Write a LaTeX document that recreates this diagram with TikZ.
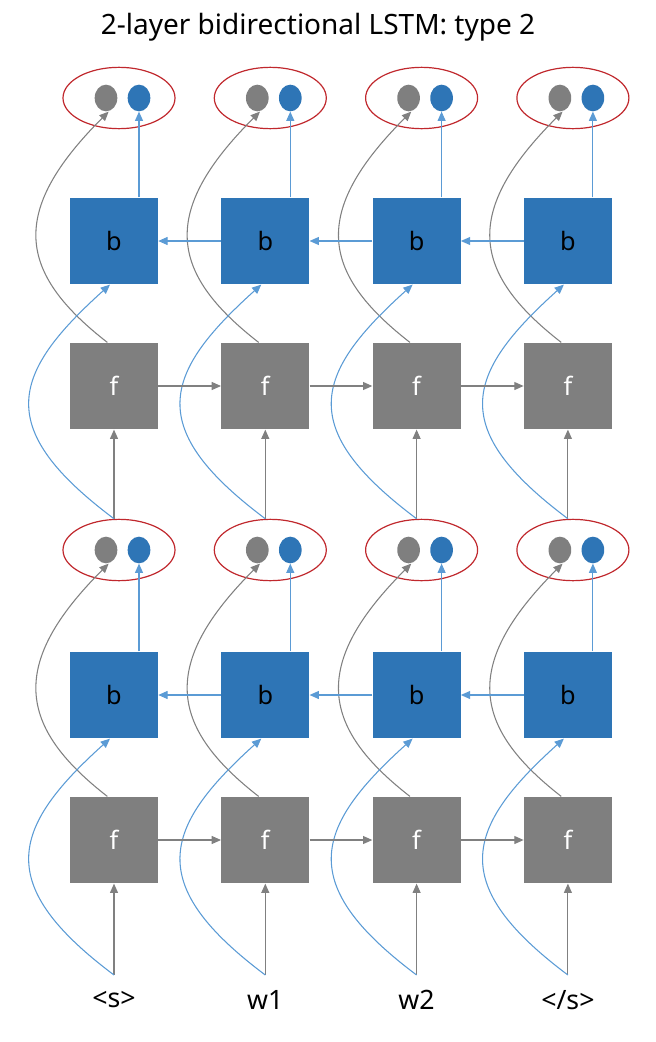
\documentclass[tikz,border=0pt]{standalone}
\usepackage{fontspec}
\setmainfont{Noto Sans}
\usetikzlibrary{arrows.meta,shapes.geometric}
\definecolor{bb}{HTML}{2E75B6}
\definecolor{gg}{HTML}{7F7F7F}
\definecolor{lb}{HTML}{5B9BD5}
\definecolor{lg}{HTML}{808080}
\definecolor{rr}{HTML}{C0282D}
\begin{document}
\begin{tikzpicture}[x=0.75pt,y=-0.75pt,
  boxb/.style={fill=bb,minimum width=66pt,minimum height=65pt,inner sep=0pt,font=\fontsize{19}{19}\selectfont,text=black},
  boxf/.style={fill=gg,minimum width=66pt,minimum height=65pt,inner sep=0pt,font=\fontsize{19}{19}\selectfont,text=white},
  ell/.style={draw=rr,line width=0.9pt,ellipse,minimum width=84pt,minimum height=46pt,inner sep=0pt},
  dotg/.style={fill=gg,ellipse,minimum width=17pt,minimum height=20pt,inner sep=0pt},
  dotb/.style={fill=bb,ellipse,minimum width=17pt,minimum height=20pt,inner sep=0pt},
  ag/.style={draw=lg,line width=0.8pt,-{Triangle[length=7pt,width=6pt]}},
  ab/.style={draw=lb,line width=0.8pt,-{Triangle[length=7pt,width=6pt]}},
  lab/.style={font=\fontsize{20}{20}\selectfont}]
\useasboundingbox (0,0) rectangle (656,1042);
\node[font=\fontsize{21}{21}\selectfont] (title) at (318,27) {2-layer bidirectional LSTM: type 2};
\foreach \i/\t in {0/{<s>},1/w1,2/w2,3/{</s>}}{
  \pgfmathsetmacro{\x}{114+151.3*\i}
  \node[lab] (in\i) at (\x,1000) {\t};
  \coordinate (src\i) at (\x,975);
  \foreach \L/\yE/\yb/\yf in {1/550/695/840, 2/98/241/386}{
    \node[ell] (e\L\i) at (\x+5,\yE) {};
    \node[dotg] (g\L\i) at (\x-8,\yE) {};
    \node[dotb] (d\L\i) at (\x+25,\yE) {};
    \node[boxb] (b\L\i) at (\x,\yb) {b};
    \node[boxf] (f\L\i) at (\x,\yf) {f};
    \draw[ab] (b\L\i.north -| d\L\i) -- (d\L\i.south);
    \draw[lg,line width=0.8pt,-{Triangle[length=7pt,width=6pt]}] ([xshift=-5pt]f\L\i.north) .. controls +(-90,-70) and +(-100,100) .. ([xshift=2pt]g\L\i.south);
  }
  \draw[ag] (src\i) -- (f1\i.south);
  \draw[ab] (src\i) .. controls +(-120,-90) and +(-100,90) .. ([xshift=-3pt]b1\i.south);
  \draw[ag] (e1\i.north -| f2\i) -- (f2\i.south);
  \draw[ab] (e1\i.north -| f2\i) .. controls +(-120,-90) and +(-100,90) .. ([xshift=-3pt]b2\i.south);
}
\foreach \L in {1,2}{
  \foreach \a/\b in {0/1,1/2,2/3}{
    \draw[ag] (f\L\a) -- (f\L\b);
    \draw[ab] (b\L\b) -- (b\L\a);
  }
}
\end{tikzpicture}
\end{document}
